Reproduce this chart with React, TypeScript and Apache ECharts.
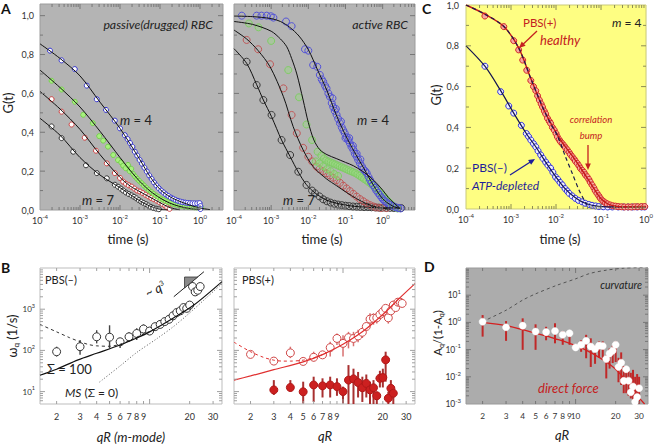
import React, { useEffect, useRef } from 'react';
import * as echarts from 'echarts';

// ---------- Panel A (left) passive(drugged) RBC : [log10 t (s), G(t)] ----------
const passiveBlue = [[-3.75,0.82],[-3.46,0.77],[-3.13,0.725],[-2.83,0.64],[-2.58,0.57],[-2.35,0.515],[-2.13,0.46],[-2.0,0.42],[-1.88,0.385],[-1.81,0.365],[-1.75,0.345],[-1.69,0.325],[-1.63,0.3],[-1.57,0.28],[-1.51,0.258],[-1.45,0.238],[-1.39,0.218],[-1.33,0.198],[-1.27,0.178],[-1.21,0.16],[-1.15,0.142],[-1.09,0.126],[-1.03,0.112],[-0.97,0.1],[-0.91,0.09],[-0.85,0.08],[-0.79,0.072],[-0.73,0.064],[-0.67,0.058],[-0.61,0.052],[-0.55,0.047],[-0.49,0.043],[-0.43,0.04],[-0.37,0.038],[-0.31,0.036],[-0.25,0.035],[-0.19,0.034],[-0.13,0.034],[-0.07,0.034],[-0.01,0.035],[0.01,0.02],[0.01,0.005]];
const passiveGreen = [[-3.71,0.665],[-3.46,0.62],[-3.13,0.557],[-2.92,0.49],[-2.68,0.447],[-2.52,0.38],[-2.42,0.357],[-2.3,0.326],[-2.17,0.283],[-2.05,0.257],[-1.97,0.245],[-1.92,0.228],[-1.86,0.215],[-1.8,0.232],[-1.76,0.2],[-1.72,0.212],[-1.67,0.185],[-1.62,0.172],[-1.57,0.16],[-1.52,0.15],[-1.46,0.138],[-1.4,0.126],[-1.34,0.114],[-1.28,0.103],[-1.22,0.093],[-1.16,0.083],[-1.1,0.074],[-1.04,0.066],[-0.98,0.058],[-0.92,0.052],[-0.86,0.046],[-0.8,0.041],[-0.74,0.036],[-0.68,0.032],[-0.62,0.029],[-0.56,0.026],[-0.5,0.023],[-0.44,0.021],[-0.38,0.019],[-0.32,0.017],[-0.26,0.016],[-0.2,0.015],[-0.14,0.014],[-0.08,0.013],[-0.02,0.012],[0.03,0.011]];
const passiveRed = [[-3.71,0.57],[-3.46,0.506],[-3.21,0.44],[-2.88,0.372],[-2.6,0.305],[-2.33,0.24],[-2.13,0.19],[-2.0,0.165],[-1.92,0.146],[-1.85,0.135],[-1.78,0.127],[-1.71,0.12],[-1.64,0.11],[-1.57,0.1],[-1.5,0.095],[-1.43,0.087],[-1.36,0.078],[-1.29,0.07],[-1.22,0.062],[-1.15,0.055],[-1.08,0.048],[-1.01,0.04],[-0.94,0.031],[-0.87,0.022],[-0.82,0.013],[-0.76,0.006]];
const passiveBlack = [[-3.71,0.43],[-3.46,0.37],[-3.17,0.3],[-2.85,0.23],[-2.58,0.19],[-2.33,0.163],[-2.13,0.13],[-2.05,0.12],[-1.98,0.11],[-1.92,0.1],[-1.85,0.09],[-1.78,0.082],[-1.71,0.075],[-1.65,0.068],[-1.59,0.06],[-1.53,0.051],[-1.47,0.043],[-1.41,0.036],[-1.35,0.03],[-1.29,0.023],[-1.23,0.016],[-1.17,0.011],[-1.1,0.007],[-1.03,0.004]];
const passiveFitBlue = [[-4,0.855],[-3.5,0.78],[-3,0.69],[-2.5,0.555],[-2,0.42],[-1.5,0.258],[-1.25,0.172],[-1,0.106],[-0.75,0.068],[-0.5,0.044],[-0.25,0.025],[0,0.01],[0.25,0.002]];
const passiveFitGreen = [[-4,0.72],[-3.5,0.63],[-3,0.53],[-2.5,0.405],[-2,0.27],[-1.75,0.205],[-1.5,0.146],[-1.25,0.098],[-1,0.062],[-0.75,0.035],[-0.5,0.018],[-0.25,0.007],[0,0.002]];
const passiveFitRed = [[-4,0.61],[-3.5,0.52],[-3,0.415],[-2.5,0.285],[-2,0.168],[-1.75,0.124],[-1.5,0.094],[-1.25,0.066],[-1,0.038],[-0.75,0.012],[-0.5,0.001]];
const passiveFitBlack = [[-4,0.472],[-3.5,0.385],[-3,0.27],[-2.5,0.18],[-2,0.115],[-1.75,0.08],[-1.5,0.047],[-1.25,0.02],[-1,0.004],[-0.8,0]];

// ---------- Panel A (right) active RBC : [log10 t (s), G(t)] ----------
const activeBlue = [[-3.79,1.0],[-3.39,1.0],[-3.26,1.0],[-3.12,1.0],[-3.01,0.997],[-2.94,0.99],[-2.6,0.97],[-2.45,0.946],[-2.09,0.827],[-2.0,0.82],[-1.87,0.746],[-1.76,0.737],[-1.69,0.695],[-1.64,0.672],[-1.6,0.66],[-1.55,0.64],[-1.51,0.626],[-1.46,0.6],[-1.42,0.583],[-1.37,0.55],[-1.33,0.53],[-1.29,0.51],[-1.24,0.49],[-1.2,0.47],[-1.15,0.446],[-1.1,0.425],[-1.06,0.41],[-1.02,0.395],[-0.97,0.375],[-0.93,0.36],[-0.88,0.343],[-0.84,0.325],[-0.79,0.31],[-0.75,0.29],[-0.7,0.275],[-0.66,0.258],[-0.61,0.24],[-0.56,0.225],[-0.52,0.21],[-0.47,0.2],[-0.43,0.19],[-0.38,0.17],[-0.34,0.155],[-0.3,0.14],[-0.26,0.129],[-0.21,0.115],[-0.17,0.1],[-0.12,0.088],[-0.08,0.077],[-0.03,0.065],[0.01,0.055],[0.05,0.047],[0.1,0.04],[0.15,0.032],[0.2,0.026],[0.28,0.02],[0.35,0.014],[0.42,0.01],[0.48,0.008],[-1.35,0.575],[-1.26,0.52],[-1.12,0.455],[-1.0,0.37],[-0.9,0.37],[-0.8,0.33],[-0.7,0.29],[-0.6,0.26]];
const activeGreen = [[-3.6,0.96],[-3.34,0.94],[-3.0,0.87],[-2.54,0.72],[-2.25,0.58],[-2.05,0.44],[-1.9,0.36],[-1.75,0.3],[-1.65,0.28],[-1.58,0.265],[-1.52,0.255],[-1.46,0.25],[-1.4,0.245],[-1.34,0.24],[-1.28,0.235],[-1.22,0.23],[-1.16,0.225],[-1.1,0.22],[-1.04,0.215],[-0.98,0.21],[-0.92,0.205],[-0.86,0.2],[-0.8,0.195],[-0.74,0.19],[-0.68,0.183],[-0.62,0.176],[-0.56,0.168],[-0.5,0.16],[-0.44,0.152],[-0.38,0.144],[-0.32,0.135],[-0.26,0.125],[-0.2,0.115],[-0.14,0.104],[-0.08,0.092],[-0.02,0.08],[0.04,0.068],[0.1,0.055],[0.16,0.043],[0.22,0.032],[0.28,0.022],[0.34,0.014],[0.4,0.008],[-1.8,0.25],[-1.7,0.24],[-1.6,0.225],[-1.5,0.21],[-1.4,0.2],[-1.3,0.185],[-1.2,0.175]];
const activeRed = [[-3.66,0.875],[-3.35,0.827],[-3.03,0.75],[-2.67,0.626],[-2.45,0.489],[-2.31,0.395],[-2.14,0.32],[-2.0,0.274],[-1.9,0.25],[-1.78,0.223],[-1.7,0.21],[-1.6,0.2],[-1.51,0.189],[-1.42,0.178],[-1.33,0.166],[-1.24,0.154],[-1.15,0.14],[-1.06,0.125],[-0.97,0.111],[-0.88,0.097],[-0.79,0.083],[-0.7,0.069],[-0.61,0.056],[-0.52,0.045],[-0.43,0.034],[-0.34,0.025],[-0.25,0.018],[-0.16,0.013],[-0.05,0.01],[0.1,0.01]];
const activeBlack = [[-3.66,0.763],[-3.39,0.643],[-3.21,0.566],[-2.99,0.489],[-2.72,0.36],[-2.49,0.283],[-2.27,0.197],[-2.05,0.129],[-1.9,0.1],[-1.82,0.086],[-1.7,0.07],[-1.6,0.055],[-1.5,0.045],[-1.4,0.038],[-1.3,0.032],[-1.2,0.028],[-1.1,0.025],[-1.0,0.022],[-0.9,0.02],[-0.8,0.018],[-0.7,0.017],[-0.6,0.016],[-0.5,0.015],[-0.4,0.015],[-0.3,0.014],[-0.2,0.013],[-0.1,0.012],[0,0.012],[0.1,0.011],[0.2,0.011],[0.3,0.01],[0.4,0.01],[0.5,0.01]];
const activeFitBlue = [[-4,0.998],[-3.5,0.995],[-3,0.985],[-2.75,0.97],[-2.5,0.94],[-2.25,0.895],[-2,0.825],[-1.75,0.72],[-1.5,0.615],[-1.25,0.49],[-1,0.385],[-0.75,0.295],[-0.5,0.212],[-0.25,0.128],[0,0.058],[0.25,0.022],[0.5,0.006]];
const activeFitGreen = [[-4,0.97],[-3.5,0.955],[-3,0.92],[-2.75,0.88],[-2.58,0.84],[-2.45,0.78],[-2.31,0.7],[-2.14,0.566],[-2.0,0.45],[-1.85,0.36],[-1.69,0.31],[-1.5,0.285],[-1.25,0.265],[-1.0,0.245],[-0.79,0.228],[-0.55,0.2],[-0.34,0.17],[-0.15,0.135],[0.01,0.1],[0.15,0.065],[0.28,0.04],[0.46,0.01]];
const activeFitRed = [[-4,0.926],[-3.66,0.88],[-3.35,0.82],[-3.03,0.737],[-2.67,0.583],[-2.41,0.43],[-2.14,0.309],[-1.87,0.223],[-1.51,0.16],[-1.24,0.125],[-0.97,0.09],[-0.7,0.058],[-0.43,0.032],[-0.16,0.014],[0.2,0.004]];
const activeFitBlack = [[-4,0.83],[-3.66,0.755],[-3.39,0.645],[-3.21,0.566],[-2.99,0.48],[-2.72,0.36],[-2.49,0.275],[-2.27,0.195],[-2.05,0.13],[-1.82,0.088],[-1.5,0.05],[-1.0,0.025],[-0.5,0.015],[0.46,0.01]];

// ---------- Panel C : m = 4, [log10 t (s), G(t)] ----------
const pbsPlus = [[-3.58,0.946],[-3.16,0.894],[-2.94,0.825],[-2.83,0.78],[-2.74,0.73],[-2.65,0.68],[-2.56,0.63],[-2.5,0.6],[-2.45,0.58],[-2.41,0.555],[-2.37,0.534],[-2.33,0.515],[-2.3,0.5],[-2.26,0.48],[-2.23,0.466],[-2.19,0.445],[-2.15,0.43],[-2.12,0.42],[-2.08,0.4],[-2.04,0.387],[-2.0,0.37],[-1.97,0.354],[-1.93,0.34],[-1.9,0.33],[-1.86,0.32],[-1.82,0.31],[-1.79,0.3],[-1.75,0.29],[-1.71,0.278],[-1.68,0.267],[-1.64,0.256],[-1.6,0.245],[-1.57,0.235],[-1.53,0.224],[-1.49,0.212],[-1.46,0.2],[-1.42,0.19],[-1.38,0.18],[-1.35,0.168],[-1.31,0.158],[-1.27,0.145],[-1.24,0.132],[-1.2,0.118],[-1.16,0.104],[-1.13,0.09],[-1.09,0.077],[-1.05,0.065],[-1.02,0.054],[-0.98,0.044],[-0.94,0.036],[-0.9,0.03],[-0.86,0.025],[-0.8,0.02],[-0.74,0.016],[-0.68,0.014],[-0.62,0.012],[-0.55,0.011],[-0.48,0.01],[-0.4,0.01],[-0.33,0.01],[-0.25,0.011],[-0.18,0.011],[-0.1,0.012],[-0.03,0.012]];
const pbsMinus = [[-3.58,0.7],[-3.23,0.575],[-3.05,0.505],[-2.94,0.47],[-2.77,0.41],[-2.66,0.37],[-2.61,0.355],[-2.56,0.338],[-2.5,0.32],[-2.45,0.305],[-2.4,0.285],[-2.34,0.265],[-2.29,0.248],[-2.23,0.23],[-2.18,0.215],[-2.12,0.2],[-2.07,0.18],[-2.01,0.157],[-1.96,0.145],[-1.91,0.13],[-1.86,0.118],[-1.8,0.1],[-1.75,0.088],[-1.71,0.077],[-1.64,0.064],[-1.57,0.052],[-1.5,0.042],[-1.42,0.035],[-1.35,0.028],[-1.27,0.022],[-1.2,0.018],[-1.12,0.015],[-1.05,0.012],[-0.95,0.011],[-0.85,0.01],[-0.75,0.01],[-0.62,0.01],[-0.5,0.01],[-0.4,0.01],[-0.3,0.01],[-0.2,0.01],[-0.1,0.01],[-0.03,0.01]];
const pbsPlusFit = [[-4,1.0],[-3.58,0.955],[-3.16,0.895],[-2.83,0.79],[-2.56,0.64],[-2.3,0.5],[-2.04,0.39],[-1.86,0.325],[-1.64,0.26],[-1.42,0.19],[-1.2,0.115],[-1.0,0.05],[-0.8,0.02],[-0.5,0.011],[0,0.012]];
const pbsPlusNoBump = [[-4,1.0],[-3.58,0.955],[-3.16,0.895],[-2.83,0.79],[-2.56,0.64],[-2.3,0.5],[-2.1,0.41],[-1.97,0.36],[-1.79,0.256],[-1.64,0.175],[-1.49,0.093],[-1.38,0.046],[-1.31,0.02],[-1.25,0.005]];
const pbsMinusFit = [[-4,0.8],[-3.58,0.7],[-3.23,0.58],[-2.94,0.47],[-2.66,0.37],[-2.45,0.305],[-2.23,0.23],[-2.01,0.16],[-1.8,0.1],[-1.57,0.055],[-1.35,0.028],[-1.05,0.013],[-0.6,0.01],[0,0.01]];

// ---------- Panel B : [qR, omega_q (1/s), low, high] ----------
const bMinusPts = [[2,93,71,123],[3,123,78,178],[4,214,148,309],[5,209,112,407],[6,162,115,195],[7,214,162,275],[8,257,178,347],[9,331,257,427],[10,295,260,335],[11,377,335,425],[12,427,380,480],[13,501,445,565],[14,569,505,640],[15,692,615,780],[16,832,740,935],[17,912,810,1025],[18,1096,975,1230],[19,1050,930,1180],[20,1259,1120,1415],[21,3548,2630,4677],[22,2630,2340,2960],[23,2884,2560,3240],[24,3548,3150,3990]];
const bMinusDashed = [[1.5,427],[2,282],[2.5,204],[3,162],[3.5,138],[4,129],[5,126],[6,141],[7,170],[8,209],[9,251],[10,288]];
const bMinusSigma100 = [[1.5,25],[2,35],[2.9,59],[4,85],[6,135],[8,200],[10,282],[15,603],[21.5,1259],[35,4677]];
const bMinusMS = [[4.2,17],[6,42],[8,89],[11.4,195],[15,372],[19.2,724],[27.2,1995],[35,4169]];
const q3Line = [[15.2,2010],[25.6,8128]];
const q3Triangle = [[18.3,3273],[23,6039],[18.3,6039]];
const bPlusOpen = [[2,80,72,89],[3,55,50,61],[4,87,65,123],[5,54,48,60],[6,68,54,93],[7,78,70,87],[8,117,71,162],[9,195,135,257],[10,148,71,234],[11,204,112,282],[12,195,126,282],[13,224,158,316],[14,275,200,355],[15,380,340,425],[16,575,398,794],[17,603,420,794],[18,617,447,794],[19,741,562,891],[20,871,631,1122],[21,1047,940,1170],[22,617,447,794],[23,912,820,1015],[24,1259,1000,1585],[25,1096,985,1220],[26,1479,1200,1778],[27,1479,1330,1645],[28,1380,1240,1535]];
const bPlusFilled = [[3,11,8.3,19],[4,12.6,10,19],[5,9.9,5.2,17.4],[6,14.5,5.6,23],[7,13.8,7.2,21],[8,14.5,7.2,23],[9,13.2,7.9,21],[10,10,5.2,13.2],[11,19,5,44],[12,20.4,5,36],[13,16.6,7.2,30],[14,12.4,5.6,23],[15,15.8,7.2,26],[16,11,5,17.4],[17,12.4,5,19],[18,7.9,5,10],[19,21,12.6,32],[20,22,12.6,36],[21,59,17.4,93],[22,6.9,5,10],[23,12,7.2,19],[24,9.1,5,13.2]];
const bPlusSolid = [[1.5,19],[2,24],[3,34],[5,52.5],[7,79],[10,141],[14,282],[20,741],[27,1905],[35,4169]];
const bPlusDashed = [[1.5,158],[2,93],[2.5,68],[3,58],[3.5,55],[4,55],[5,58],[6,66],[7,79],[8,95]];

// ---------- Panel D : [qR, A_q/(1-A_q), low, high] ----------
const dPts = [[2,1.06,0.3,1.86],[3,0.66,0.21,1.12],[4,0.76,0.098,1.41],[5,0.46,0.098,0.85],[6,0.44,0.22,0.69],[7,0.48,0.17,0.93],[8,0.35,0.15,0.48],[9,0.4,0.15,0.48],[10,0.12,0.1,0.14],[11,0.15,0.083,0.22],[12,0.21,0.048,0.35],[13,0.13,0.023,0.26],[14,0.105,0.03,0.14],[15,0.14,0.05,0.2],[16,0.135,0.05,0.2],[17,0.045,0.0087,0.063],[18,0.072,0.02,0.11],[19,0.091,0.032,0.14],[20,0.15,0.035,0.2],[21,0.023,0.0063,0.05],[22,0.033,0.005,0.079],[23,0.0071,0.0025,0.025],[24,0.019,0.0025,0.022],[25,0.0072,0.002,0.016],[26,0.0027,0.0016,0.014],[27,0.0044,0.0011,0.018],[28,0.0012,0.001,0.01],[29,0.0018,0.001,0.0126],[30,0.0038,0.001,0.01]];
const dDirect = [[2,1],[3,0.76],[4,0.54],[5,0.4],[6,0.32],[7,0.25],[8,0.21],[10,0.14],[12,0.095],[15,0.052],[17,0.035],[20,0.019],[24,0.0071],[28,0.0025],[33,0.001]];
const dCurvature = [[2,1.07],[3,2.8],[4,6.6],[5,11.2],[7.2,23],[10,40],[12.8,63],[17,83],[22.8,98],[35,107]];

// ---------- tick labels ----------
const timeDecades = [-4, -3, -2, -1, 0];
const gLabels = [0, 0.2, 0.4, 0.6, 0.8, 1.0];
const qLabelsB = [2, 3, 4, 5, 6, 7, 8, 9, 20, 30];
const qLabelsD = [2, 3, 4, 5, 6, 7, 8, 9, 10, 20, 30];
const omegaDecades = [1, 2, 3];
const dDecades = [-3, -2, -1, 0, 1];

const FONT = 'Lato, "Open Sans", sans-serif';
const L = Math.log10;

function logTicks(lo: number, hi: number) {
  const out: number[][] = [];
  for (let n = Math.floor(lo) - 1; n <= Math.ceil(hi); n++) {
    for (let k = 1; k <= 9; k++) {
      const v = n + Math.log10(k);
      if (v > lo + 1e-6 && v < hi - 1e-6) out.push([v, k === 1 ? 1 : 0]);
    }
  }
  return out;
}
function linTicks(lo: number, hi: number, step: number, major: number) {
  const out: number[][] = [];
  for (let i = 1; lo + i * step < hi - 1e-9; i++) {
    const v = Math.round((lo + i * step) * 1000) / 1000;
    const r = v / major;
    out.push([v, Math.abs(r - Math.round(r)) < 1e-6 ? 1 : 0]);
  }
  return out;
}

const qx: [number, number] = [L(1.5), L(35)];
const grids: any[] = [
  { left: 40, top: 4, width: 183, height: 206, bg: '#b4b4b4', border: '#9c9c9c', tick: '#777', x: [-4, 0.575], y: [0, 1.06] },
  { left: 234, top: 4, width: 181, height: 206, bg: '#b4b4b4', border: '#9c9c9c', tick: '#777', x: [-4, 0.87], y: [0, 1.06] },
  { left: 466, top: 5, width: 182, height: 204, bg: '#fefe82', border: '#c9c97a', tick: '#8c8c55', x: [-4, 0], y: [0, 1.0] },
  { left: 40, top: 268, width: 182, height: 136, bg: '#ffffff', border: '#bdbdbd', tick: '#a0a0a0', x: qx, y: [L(5), 4] },
  { left: 234, top: 268, width: 181, height: 136, bg: '#ffffff', border: '#bdbdbd', tick: '#a0a0a0', x: qx, y: [L(5), 4] },
  { left: 466, top: 268, width: 182, height: 136, bg: '#acacac', border: '#9a9a9a', tick: '#777', x: qx, y: [-3, 2] },
];
grids.forEach((g, i) => {
  g.xt = logTicks(g.x[0], g.x[1]);
  g.yt = i < 3 ? linTicks(g.y[0], g.y[1], 0.1, 0.2) : logTicks(g.y[0], g.y[1]);
});

const supRich = (b: number, s: number) => ({
  b: { fontSize: b, fontFamily: FONT, color: '#333', lineHeight: b + 5 },
  s: { fontSize: s, fontFamily: FONT, color: '#333', verticalAlign: 'top', lineHeight: s + 1 },
});
const supFmt = (v: number) => `{b|10}{s|${Math.round(v)}}`;

function xAxisFor(i: number) {
  const g = grids[i];
  let axisLabel: any;
  if (i < 3) {
    axisLabel = { customValues: timeDecades, formatter: supFmt, rich: supRich(9, 6), margin: 3 };
  } else {
    const vals = (i === 5 ? qLabelsD : qLabelsB).map(L);
    axisLabel = { customValues: vals, formatter: (v: number) => String(Math.round(Math.pow(10, v))), fontSize: i === 5 ? 8.3 : 9, color: '#333', fontFamily: FONT, margin: 8 };
  }
  return {
    type: 'value', gridIndex: i, min: g.x[0], max: g.x[1],
    axisLine: { show: false }, axisTick: { show: false }, splitLine: { show: false },
    axisLabel: { interval: 0, ...axisLabel },
  };
}
function yAxisFor(i: number) {
  const g = grids[i];
  let axisLabel: any = { show: false };
  if (i === 0 || i === 2) {
    axisLabel = { show: true, customValues: gLabels, formatter: (v: number) => v.toFixed(1).replace('.', ','), fontSize: 9, color: '#333', fontFamily: FONT, margin: i === 0 ? 6 : 7 };
  } else if (i === 3) {
    axisLabel = { show: true, customValues: omegaDecades, formatter: supFmt, rich: supRich(8, 5.5), margin: 5 };
  } else if (i === 5) {
    axisLabel = { show: true, customValues: dDecades, formatter: supFmt, rich: supRich(8.5, 6), margin: 5 };
  }
  return {
    type: 'value', gridIndex: i, min: g.y[0], max: g.y[1],
    axisLine: { show: false }, axisTick: { show: false }, splitLine: { show: false },
    axisLabel,
  };
}

function tickSeries(gi: number) {
  const g = grids[gi];
  const data = [...g.xt.map((t: number[]) => [t[0], t[1]]), ...g.yt.map((t: number[]) => [t[0], 2 + t[1]])];
  return {
    type: 'custom', xAxisIndex: gi, yAxisIndex: gi, silent: true, z: 20, data,
    renderItem: (_p: any, api: any) => {
      const v = api.value(0), k = api.value(1);
      const len = k % 2 === 1 ? 5 : 3;
      const style = { stroke: g.tick, lineWidth: 1 };
      if (k < 2) {
        const a = api.coord([v, g.y[0]]), b = api.coord([v, g.y[1]]);
        return { type: 'group', children: [
          { type: 'line', shape: { x1: a[0], y1: a[1], x2: a[0], y2: a[1] - len }, style },
          { type: 'line', shape: { x1: b[0], y1: b[1], x2: b[0], y2: b[1] + len }, style },
        ] };
      }
      const a = api.coord([g.x[0], v]), b = api.coord([g.x[1], v]);
      return { type: 'group', children: [
        { type: 'line', shape: { x1: a[0], y1: a[1], x2: a[0] + len, y2: a[1] }, style },
        { type: 'line', shape: { x1: b[0], y1: b[1], x2: b[0] - len, y2: b[1] }, style },
      ] };
    },
  };
}

const pts = (gi: number, data: any[], size: number, fill: string, stroke: string, bw = 1, z = 3) => ({
  type: 'scatter', xAxisIndex: gi, yAxisIndex: gi, data, symbol: 'circle', symbolSize: size,
  itemStyle: { color: fill, borderColor: stroke, borderWidth: bw, opacity: 1 }, silent: true, z,
});
const curve = (gi: number, data: any[], color: string, width = 1, type: any = 'solid', smooth: any = 0.3, z = 5) => ({
  type: 'line', xAxisIndex: gi, yAxisIndex: gi, data, showSymbol: false, symbol: 'none', smooth,
  lineStyle: { color, width, type }, silent: true, z,
});
const errBars = (gi: number, data: any[], color: string, width: number) => ({
  type: 'custom', xAxisIndex: gi, yAxisIndex: gi, data, encode: { x: 0, y: [1, 2] }, clip: true, silent: true, z: 2,
  renderItem: (_p: any, api: any) => {
    const a = api.coord([api.value(0), api.value(1)]);
    const b = api.coord([api.value(0), api.value(2)]);
    return { type: 'line', shape: { x1: a[0], y1: a[1], x2: b[0], y2: b[1] }, style: { stroke: color, lineWidth: width } };
  },
});
const lg2 = (arr: number[][]) => arr.map((d) => [L(d[0]), L(d[1])]);
const lgErr = (arr: number[][]) => arr.map((d) => [L(d[0]), L(d[2]), L(d[3])]);

function T(x: number, y: number, text: string, size: number, o: any = {}) {
  const align = o.align || 'left', va = o.va || 'middle';
  return {
    type: 'text', x, y, rotation: o.rot || 0, silent: true, z: 100,
    style: {
      text, fill: o.color || '#222', fontSize: size, fontFamily: FONT,
      fontStyle: o.italic ? 'italic' : 'normal', fontWeight: o.bold ? 'bold' : 'normal',
      align, verticalAlign: va, textAlign: align, textVerticalAlign: va, rich: o.rich,
    },
  };
}
const rs = (size: number, color: string, extra: any = {}) => ({ fontSize: size, fontFamily: FONT, fill: color, color, ...extra });

function arrow(x1: number, y1: number, x2: number, y2: number, color: string) {
  const a = Math.atan2(y2 - y1, x2 - x1), h = 7;
  const bx = x2 - h * 0.8 * Math.cos(a), by = y2 - h * 0.8 * Math.sin(a);
  return [
    { type: 'line', silent: true, z: 100, shape: { x1, y1, x2: bx, y2: by }, style: { stroke: color, lineWidth: 1.3 } },
    { type: 'polygon', silent: true, z: 100, shape: { points: [[x2, y2], [x2 - h * Math.cos(a - 0.42), y2 - h * Math.sin(a - 0.42)], [x2 - h * Math.cos(a + 0.42), y2 - h * Math.sin(a + 0.42)]] }, style: { fill: color } },
  ];
}

function buildOption() {
  const series: any[] = [];
  // A left
  series.push(curve(0, passiveFitBlack, '#111', 1), curve(0, passiveFitRed, '#111', 1), curve(0, passiveFitGreen, '#111', 1), curve(0, passiveFitBlue, '#111', 1));
  series.push(pts(0, passiveBlack, 5, '#ffffff', '#333333'), pts(0, passiveRed, 5, '#ffffff', '#d04040'), pts(0, passiveGreen, 5, '#a8f080', '#78d050'), pts(0, passiveBlue, 5, '#ffffff', '#3434d0'));
  // A right
  series.push(pts(1, activeBlack, 7, 'rgba(0,0,0,0)', '#3a3a3a'), pts(1, activeRed, 7, 'rgba(0,0,0,0)', '#c05858'), pts(1, activeGreen, 7, 'rgba(150,225,120,0.35)', '#80cc66'), pts(1, activeBlue, 7, 'rgba(0,0,0,0)', '#5252d8'));
  series.push(curve(1, activeFitBlack, '#111', 1), curve(1, activeFitRed, '#111', 1), curve(1, activeFitGreen, '#111', 1), curve(1, activeFitBlue, '#111', 1));
  // C
  series.push(pts(2, pbsMinus, 6, '#eeeeff', '#3030d8'), pts(2, pbsPlus, 6, '#f6a8a0', '#d02828'));
  series.push(curve(2, pbsMinusFit, '#141450', 1.2), curve(2, pbsPlusFit, '#c41818', 1.4), curve(2, pbsPlusNoBump, '#1a1a50', 1.2, [4, 3]));
  // B left
  series.push(curve(3, lg2(bMinusDashed), '#333', 1, [3, 3]));
  series.push(curve(3, lg2(bMinusSigma100), '#111', 1.2));
  series.push(curve(3, lg2(bMinusMS), '#555', 1, [1, 2]));
  series.push(curve(3, lg2(q3Line), '#222', 1, 'solid', false));
  series.push({
    type: 'custom', xAxisIndex: 3, yAxisIndex: 3, silent: true, z: 6, data: [lg2(q3Triangle)[0]],
    renderItem: (_p: any, api: any) => ({ type: 'polygon', shape: { points: lg2(q3Triangle).map((p) => api.coord(p)) }, style: { fill: '#8a8a8a', stroke: '#333', lineWidth: 0.8 } }),
  });
  series.push(errBars(3, lgErr(bMinusPts), '#444', 1.4));
  series.push(pts(3, lg2(bMinusPts), 8, '#ffffff', '#333333'));
  // B right
  series.push(curve(4, lg2(bPlusSolid), '#e03030', 1.2), curve(4, lg2(bPlusDashed), '#e03030', 1, [3, 3]));
  series.push(errBars(4, lgErr(bPlusOpen), '#d87070', 1.5), errBars(4, lgErr(bPlusFilled), '#a83030', 2));
  series.push(pts(4, lg2(bPlusOpen), 8, '#ffffff', '#d04848'), pts(4, lg2(bPlusFilled), 8, '#cc2020', '#b01818'));
  // D
  series.push(curve(5, lg2(dCurvature), '#555', 1, [3, 3]), curve(5, lg2(dDirect), '#d42020', 1.3));
  series.push(errBars(5, lgErr(dPts), '#c02828', 2));
  series.push(pts(5, lg2(dPts), 7, '#ffffff', '#ffffff', 0.5, 6));
  // ticks
  for (let i = 0; i < 6; i++) series.push(tickSeries(i));

  const mEq = (n: string, size: number, color = '#222') => ({ text: `{i|m}{n| = ${n}}`, rich: { i: rs(size, color, { fontStyle: 'italic' }), n: rs(size, color) } });
  const m4a = mEq('4', 13), m7a = mEq('7', 13), m4c = mEq('4', 12);
  const graphics: any[] = [
    T(1, 1, 'A', 14, { bold: true, va: 'top', color: '#111' }),
    T(1, 260, 'B', 14, { bold: true, va: 'top', color: '#111' }),
    T(422, 1, 'C', 14, { bold: true, va: 'top', color: '#111' }),
    T(424, 259, 'D', 14, { bold: true, va: 'top', color: '#111' }),
    T(8, 103, 'G(t)', 13, { align: 'center', rot: Math.PI / 2 }),
    T(436, 95, 'G(t)', 13, { align: 'center', rot: Math.PI / 2 }),
    T(128, 239, 'time (s)', 13, { align: 'center' }),
    T(322, 239, 'time (s)', 13, { align: 'center' }),
    T(560, 239, 'time (s)', 13, { align: 'center' }),
    T(213, 24, 'passive(drugged) RBC', 12.3, { align: 'right', italic: true }),
    T(120, 120, m4a.text, 13, { rich: m4a.rich }),
    T(82, 200, m7a.text, 13, { rich: m7a.rich }),
    T(408, 24, 'active RBC', 12.3, { align: 'right', italic: true }),
    T(357, 120, m4a.text, 13, { rich: m4a.rich }),
    T(283, 200, m7a.text, 13, { rich: m7a.rich }),
    T(523, 22, 'PBS(+)', 11.5, { color: '#c42020' }),
    T(540, 40, 'healthy', 13, { color: '#c42020', italic: true }),
    T(612, 22, m4c.text, 12, { rich: m4c.rich }),
    T(591, 119, 'correlation', 9.5, { color: '#c42020', italic: true, align: 'center' }),
    T(591, 135, 'bump', 9.5, { color: '#c42020', italic: true, align: 'center' }),
    T(472, 167, 'PBS(–)', 12, { color: '#1e1e9a' }),
    T(472, 185, 'ATP-depleted', 12, { color: '#1e1e9a', italic: true }),
    ...arrow(537, 31, 519, 48, '#c42020'),
    ...arrow(588, 145, 588, 170, '#c42020'),
    ...arrow(510, 175, 535, 159, '#1e1e9a'),
    T(45, 279, 'PBS(–)', 11),
    T(242, 279, 'PBS(+)', 11),
    T(155, 289, '{t|~ }{q|q}{s|3}', 12, { rot: 0.45, align: 'center', rich: { t: rs(12, '#222'), q: rs(13, '#222', { fontStyle: 'italic' }), s: rs(7, '#222', { verticalAlign: 'top', lineHeight: 8 }) } }),
    T(47, 369, 'Σ = 100', 13),
    T(65, 392, '{i|MS}{n| (Σ = 0)}', 12, { rich: { i: rs(12, '#222', { fontStyle: 'italic' }), n: rs(12, '#222') } }),
    T(12, 336, '{w|ω}{sub|q}{n| (1/s)}', 13, { align: 'center', rot: Math.PI / 2, rich: { w: rs(13, '#222', { lineHeight: 16 }), sub: rs(8, '#222', { verticalAlign: 'bottom', lineHeight: 8 }), n: rs(13, '#222', { lineHeight: 16 }) } }),
    T(131, 437, 'qR (m-mode)', 13, { align: 'center', italic: true }),
    T(325, 436, 'qR', 13, { align: 'center', italic: true }),
    T(562, 435, 'qR', 13, { align: 'center', italic: true }),
    T(437, 333, '{a|A}{sub|q}{a|/(1-A}{sub|q}{a|)}', 11.5, { align: 'center', rot: Math.PI / 2, rich: { a: rs(11.5, '#222', { lineHeight: 14 }), sub: rs(7, '#222', { verticalAlign: 'bottom', lineHeight: 7 }) } }),
    T(642, 285, 'curvature', 10.5, { align: 'right', italic: true }),
    T(538, 388, 'direct force', 13, { color: '#c42020', italic: true }),
  ];

  return {
    animation: false,
    textStyle: { fontFamily: FONT },
    grid: grids.map((g) => ({ left: g.left, top: g.top, width: g.width, height: g.height, show: true, backgroundColor: g.bg, borderColor: g.border, borderWidth: 1 })),
    xAxis: grids.map((_g, i) => xAxisFor(i)),
    yAxis: grids.map((_g, i) => yAxisFor(i)),
    series,
    graphic: graphics,
  };
}

export default function App() {
  const ref = useRef<HTMLDivElement>(null);
  useEffect(() => {
    const chart = echarts.init(ref.current as HTMLDivElement, null, { renderer: 'svg' });
    chart.setOption(buildOption() as any);
    return () => chart.dispose();
  }, []);
  return <div ref={ref} style={{ position: 'fixed', left: 0, top: 0, width: 656, height: 444, background: '#ffffff' }} />;
}
